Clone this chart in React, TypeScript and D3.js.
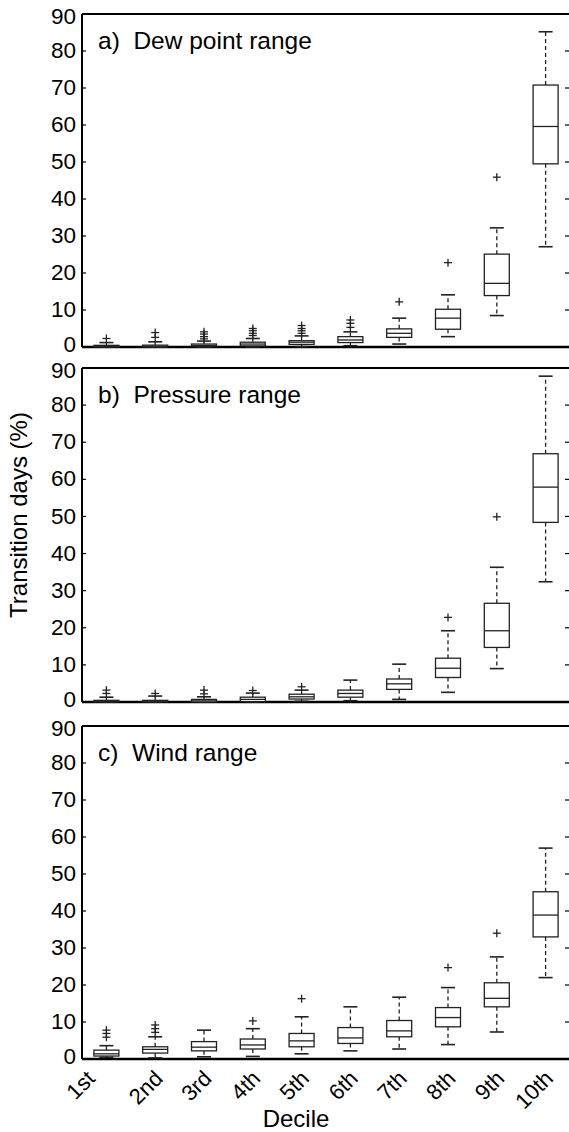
import React from "react";
import * as d3 from "d3";

const deciles = ["1st", "2nd", "3rd", "4th", "5th", "6th", "7th", "8th", "9th", "10th"];
const yTicks = [0, 10, 20, 30, 40, 50, 60, 70, 80, 90];

// Dew point range: [lowWhisker, q1, median, q3, highWhisker]
const dewStats = [
  [0, 0, 0.15, 0.45, 1.2],
  [0, 0, 0.2, 0.5, 1.4],
  [0, 0.1, 0.4, 0.8, 1.6],
  [0, 0.3, 0.8, 1.3, 2.3],
  [0.1, 0.7, 1.3, 1.7, 3.0],
  [0.35, 1.2, 1.9, 2.8, 4.1],
  [0.8, 2.6, 3.7, 4.9, 7.8],
  [2.8, 4.8, 7.8, 10.2, 14.1],
  [8.5, 13.9, 17.2, 25.1, 32.2],
  [27.1, 49.5, 59.6, 70.8, 85.2],
];
const dewOutliers = [
  [2.3],
  [2.6, 3.9],
  [2.2, 2.8, 3.5, 4.1],
  [3.1, 3.7, 4.4, 5.0],
  [3.7, 4.4, 5.0, 5.8],
  [5.3, 6.4, 7.3],
  [12.2],
  [22.8],
  [45.9],
  [],
];

const pressureStats = [
  [0, 0, 0.15, 0.45, 1.3],
  [0, 0, 0.2, 0.45, 1.6],
  [0, 0, 0.3, 0.7, 1.4],
  [0, 0.1, 0.7, 1.3, 2.4],
  [0.2, 0.8, 1.4, 2.1, 3.2],
  [0.35, 1.3, 2.3, 3.2, 5.9],
  [0.7, 3.4, 4.9, 6.2, 10.2],
  [2.6, 6.6, 9.1, 11.8, 19.2],
  [9.0, 14.7, 19.2, 26.6, 36.3],
  [32.4, 48.4, 57.9, 66.9, 87.8],
];
const pressureOutliers = [
  [2.3, 3.2],
  [2.3],
  [2.2, 3.2],
  [3.1],
  [4.1],
  [],
  [],
  [22.8],
  [49.9],
  [],
];

const windStats = [
  [0.45, 0.8, 1.4, 2.4, 3.6],
  [0.3, 1.6, 2.6, 3.3, 6.0],
  [0.6, 2.2, 3.2, 4.7, 7.8],
  [0.7, 2.7, 3.8, 5.4, 8.2],
  [1.4, 3.3, 4.9, 6.9, 11.4],
  [2.2, 4.2, 5.7, 8.5, 14.1],
  [2.7, 6.0, 7.6, 10.4, 16.7],
  [3.9, 8.7, 11.2, 13.9, 19.3],
  [7.3, 14.1, 16.4, 20.6, 27.6],
  [22.0, 33.0, 38.9, 45.2, 57.0],
];
const windOutliers = [
  [5.9, 6.9, 7.8],
  [7.2, 8.2, 9.2],
  [],
  [10.3],
  [16.3],
  [],
  [],
  [24.7],
  [34.0],
  [],
];

const panels = [
  { title: "a)  Dew point range", stats: dewStats, outliers: dewOutliers, top: 14, bottom: 347 },
  { title: "b)  Pressure range", stats: pressureStats, outliers: pressureOutliers, top: 368, bottom: 702 },
  { title: "c)  Wind range", stats: windStats, outliers: windOutliers, top: 726, bottom: 1059 },
];

const W = 569;
const H = 1132;
const left = 82;
const right = 570;
const font = "'Liberation Sans', Arial, Helvetica, sans-serif";

const x = d3.scaleLinear().domain([0.5, 10.5]).range([left, right]);

function Panel({ p, showX }: { p: any; showX: boolean }) {
  const y = d3.scaleLinear().domain([0, 90]).range([p.bottom, p.top]);
  const bw = 25;
  const cw = 14;
  return (
    <g>
      {/* frame */}
      <line x1={left} x2={right + 5} y1={p.top} y2={p.top} stroke="#000" strokeWidth={2} />
      <line x1={left} x2={right + 5} y1={p.bottom} y2={p.bottom} stroke="#000" strokeWidth={2.4} />
      <line x1={left} x2={left} y1={p.top} y2={p.bottom} stroke="#000" strokeWidth={2} />
      <line x1={right} x2={right} y1={p.top} y2={p.bottom} stroke="#000" strokeWidth={2} />
      {yTicks.map((t) => {
        const off = t === 0 ? -3 : t === 90 ? 2 : -1;
        return (
          <g key={t}>
            <line x1={left} x2={left + 4} y1={y(t)} y2={y(t)} stroke="#000" strokeWidth={1.2} />
            <line x1={right - 5} x2={right} y1={y(t)} y2={y(t)} stroke="#000" strokeWidth={1.2} />
            <text x={left - 6} y={y(t) + off} dy="0.36em" textAnchor="end" fontFamily={font} fontSize={22.5} fill="#000">
              {t}
            </text>
          </g>
        );
      })}
      <text x={98} y={p.top + 35} fontFamily={font} fontSize={24.5} fill="#000" style={{ whiteSpace: "pre" }}>
        {p.title}
      </text>
      {p.stats.map((s: number[], i: number) => {
        const cx = x(i + 1);
        const [lo, q1, md, q3, hi] = s;
        return (
          <g key={i} stroke="#222" fill="none" strokeWidth={1.3}>
            <line x1={cx} x2={cx} y1={y(q3)} y2={y(hi)} strokeDasharray="4,3" />
            <line x1={cx} x2={cx} y1={y(q1)} y2={y(lo)} strokeDasharray="4,3" />
            <line x1={cx - cw / 2} x2={cx + cw / 2} y1={y(hi)} y2={y(hi)} strokeWidth={1.6} />
            <line x1={cx - cw / 2} x2={cx + cw / 2} y1={y(lo)} y2={y(lo)} strokeWidth={1.6} />
            <rect x={cx - bw / 2} y={y(q3)} width={bw} height={Math.max(0, y(q1) - y(q3))} fill="#fff" />
            <line x1={cx - bw / 2} x2={cx + bw / 2} y1={y(md)} y2={y(md)} />
            {p.outliers[i].map((o: number, k: number) => (
              <g key={k}>
                <line x1={cx - 4} x2={cx + 4} y1={y(o)} y2={y(o)} />
                <line x1={cx} x2={cx} y1={y(o) - 4} y2={y(o) + 4} />
              </g>
            ))}
          </g>
        );
      })}
      {showX &&
        deciles.map((d, i) => {
          const ax = i === 0 ? x(1) - 21 : x(i + 1) - 2;
          const ay = p.bottom + 10;
          return (
            <text
              key={d}
              x={ax}
              y={ay}
              transform={`rotate(-45 ${ax} ${ay})`}
              textAnchor="end"
              dy="0.7em"
              fontFamily={font}
              fontSize={22}
              fill="#000"
            >
              {d}
            </text>
          );
        })}
    </g>
  );
}

export default function App() {
  return (
    <svg
      width={W}
      height={H}
      style={{ position: "absolute", left: 0, top: 0, background: "#fff" }}
    >
      <rect x={0} y={0} width={W} height={H} fill="#fff" />
      {panels.map((p, i) => (
        <Panel key={i} p={p} showX={i === 2} />
      ))}
      <text
        x={0}
        y={0}
        transform={`translate(27, 515) rotate(-90)`}
        textAnchor="middle"
        fontFamily={font}
        fontSize={24}
        fill="#000"
      >
        Transition days (%)
      </text>
      <text x={296} y={1127} textAnchor="middle" fontFamily={font} fontSize={24} fill="#000">
        Decile
      </text>
    </svg>
  );
}
